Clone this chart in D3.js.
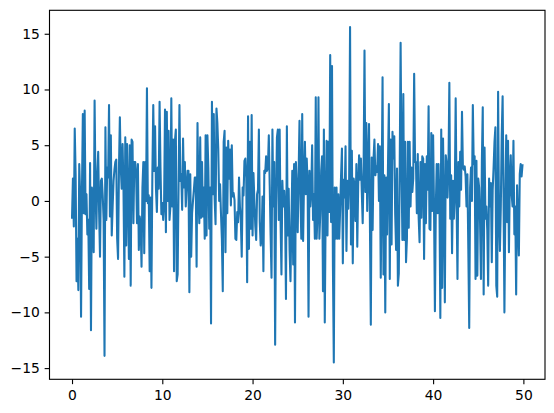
<!DOCTYPE html>
<html><head><meta charset="utf-8">
<script src="https://cdn.jsdelivr.net/npm/d3@7"></script>
<style>html,body{margin:0;padding:0;background:#fff;}svg{display:block;}</style>
</head><body><svg id="c" width="554" height="413"></svg>
<script>
const step = 0.1;
const seg0 = [-1.5,2.0,-2.3,6.5,2.4,-7.2,-3.4,-8.0,3.3,0.6,-10.4,0.9,7.8,-1.1,8.1,-1.2,0.6,-3.0,-1.7,-7.9,3.4,-11.6,1.2,-0.5,-4.6,9.0,1.2,-2.5,2.4,4.4,-1.0,-5.0,1.8,2.0,0.5,-1.7,-13.9,6.6,-1.7,3.0,2.1,8.6,-1.4,5.9,-3.1,-0.5,1.8,2.8,3.5,3.7];
const seg1 = [-3.4,-5.2,2.9,7.5,3.0,1.1,5.1,1.2,-6.8,5.7,-4.0,5.1,0.5,-5.2,5.0,-7.6,5.5,5.3,-2.0,3.5,3.5,2.4,-2.0,3.3,-4.4,-1.4,-2.1,-5.9,1.2,3.5,-4.7,3.5,0.0,10.1,-0.2,0.5,-6.3,0.3,-7.8,2.4,8.6,2.7,6.7,1.1,-1.0,3.0,1.1,8.9,3.0,-1.2];
const seg2 = [-0.2,-1.7,-0.2,8.2,-2.8,8.0,0.0,6.3,-1.7,-0.5,9.2,-0.5,5.5,-6.3,5.4,6.4,-7.2,-6.6,1.1,8.6,1.8,2.4,-0.8,5.6,1.2,3.5,-0.5,1.2,2.7,2.7,-8.2,2.4,-5.0,-1.1,0.0,1.0,2.1,2.1,-5.9,7.0,0.8,-2.0,5.7,-1.5,3.5,-1.4,1.2,-3.4,5.9,-3.1];
const seg3 = [5.9,3.0,-2.5,1.2,-11.0,8.9,0.6,7.8,0.2,-2.1,8.3,7.0,4.7,0.0,1.5,-1.1,-3.4,-8.1,5.3,6.3,-4.6,4.8,-1.1,5.4,2.0,4.6,-0.4,5.0,0.4,0.7,0.1,-3.4,-3.5,-1.0,-1.9,2.1,-0.5,-1.7,-5.0,1.2,0.5,3.6,3.8,2.1,-7.3,7.6,-4.3,5.3,-2.5,7.7];
const seg4 = [-3.1,2.5,0.0,-2.2,-3.5,0.6,1.0,6.4,-1.9,-4.0,-3.4,0.4,-6.3,2.7,2.5,4.0,2.7,3.0,5.9,1.4,-3.1,-6.9,6.4,-0.5,3.5,-12.9,-0.5,5.7,6.4,-1.7,6.4,-1.7,-6.6,1.8,-0.5,0.9,-0.8,-8.8,6.7,-3.1,1.1,-4.4,-7.2,-2.0,2.7,-5.7,3.3,-10.9,3.5,1.1];
const seg5 = [-2.8,2.4,7.2,0.6,-3.4,7.8,-3.6,1.8,5.3,0.6,3.8,1.5,-10.4,2.7,-0.5,0.9,5.0,-1.7,0.6,-3.4,9.3,-3.4,-1.0,9.3,-3.4,-1.1,2.7,4.0,-8.1,6.4,-10.9,-0.5,5.4,-3.1,5.3,-1.0,13.1,-1.9,12.1,-5.7,-14.5,1.2,-3.4,1.2,-3.4,0.6,-3.4,-0.8,2.2,4.7];
const seg6 = [-5.6,1.9,0.3,4.9,-4.5,1.8,-0.7,2.0,15.6,-3.9,4.5,-5.6,2.0,1.3,-1.8,3.3,-4.1,1.4,4.1,1.9,3.8,0.8,-2.0,3.0,13.5,0.8,7.0,-0.9,3.5,6.9,-2.0,-11.1,3.9,-2.6,3.8,5.5,2.3,3.1,2.6,5.1,0.0,4.9,-6.9,1.0,11.1,-6.6,2.3,-10.0,2.1,-3.0];
const seg7 = [3.1,8.7,-7.0,5.5,-3.9,6.2,3.8,5.8,-1.2,-4.4,2.9,-7.6,-6.5,3.0,14.2,3.0,-3.5,9.6,-3.5,5.3,-5.5,-3.4,5.3,-2.4,5.3,-0.5,3.0,0.8,2.0,11.4,3.5,3.5,-1.1,4.2,-1.5,-3.7,3.5,-1.5,4.0,3.8,-5.2,3.3,-2.0,4.0,1.0,8.5,-2.5,-2.6,6.1,-0.9];
const seg8 = [5.9,-0.5,-9.9,-0.5,3.3,-1.1,3.3,0.0,-10.5,6.4,-7.8,5.6,-0.5,-9.1,4.1,3.4,0.3,3.0,10.6,-1.6,2.3,-4.7,1.8,-1.6,0.5,9.2,-0.2,-7.0,3.5,-0.5,4.4,1.0,8.0,3.0,2.8,3.1,2.2,-0.5,2.4,-4.3,-11.4,1.2,3.0,0.0,8.6,3.3,4.0,-7.0,3.6,-6.7];
const seg9 = [2.0,1.2,-1.9,-7.0,3.5,8.4,-8.4,4.8,-1.6,-0.5,-2.6,-7.6,2.0,-0.5,1.6,-5.5,1.0,3.0,5.3,6.6,-7.6,-8.6,9.8,-1.3,-4.5,-0.5,5.9,9.4,0.6,-10.0,-0.5,5.9,-1.9,5.4,-4.6,2.0,4.1,0.6,-0.5,5.4,-3.0,-0.5,-8.4,1.4,-1.9,-4.9,2.4,3.3,2.2,3.2];
const xTicks = [0, 10, 20, 30, 40, 50];
const yTicks = [-15, -10, -5, 0, 5, 10, 15];

const values = [].concat(seg0, seg1, seg2, seg3, seg4, seg5, seg6, seg7, seg8, seg9);
const data = values.map((v, i) => ({x: +(i * step).toFixed(1), y: v}));

const L = 49.5, R = 545, T = 10.3, B = 379.3;
const svg = d3.select("#c");
const xExt = d3.extent(data, d => d.x), yExt = d3.extent(data, d => d.y);
const xPad = (xExt[1] - xExt[0]) * 0.05, yPad = (yExt[1] - yExt[0]) * 0.05;
const x = d3.scaleLinear().domain([xExt[0] - xPad, xExt[1] + xPad]).range([L, R]);
const y = d3.scaleLinear().domain([yExt[0] - yPad, yExt[1] + yPad]).range([B, T]);

const fmt = d => (d < 0 ? "\u2212" + Math.abs(d) : "" + d);
const font = "'DejaVu Sans', sans-serif";

svg.append("path").datum(data)
  .attr("fill", "none").attr("stroke", "#1f77b4").attr("stroke-width", 2.08)
  .attr("stroke-linejoin", "round").attr("stroke-linecap", "square")
  .attr("d", d3.line().x(d => x(d.x)).y(d => y(d.y)));

const xAxis = svg.append("g").attr("transform", `translate(0,${B})`)
  .call(d3.axisBottom(x).tickValues(xTicks).tickSize(4.86).tickPadding(4.86).tickFormat(fmt));
const yAxis = svg.append("g").attr("transform", `translate(${L},0)`)
  .call(d3.axisLeft(y).tickValues(yTicks).tickSize(4.86).tickPadding(4.86).tickFormat(fmt));
[xAxis, yAxis].forEach(g => {
  g.select(".domain").remove();
  g.selectAll(".tick line").attr("stroke", "#000").attr("stroke-width", 1.11);
  g.selectAll(".tick text").attr("fill", "#000").style("font-family", font).style("font-size", "13.89px");
});
xAxis.selectAll(".tick text").attr("dy", "0.76em");

svg.append("rect").attr("x", L).attr("y", T).attr("width", R - L).attr("height", B - T)
  .attr("fill", "none").attr("stroke", "#000").attr("stroke-width", 1.11);
</script></body></html>
